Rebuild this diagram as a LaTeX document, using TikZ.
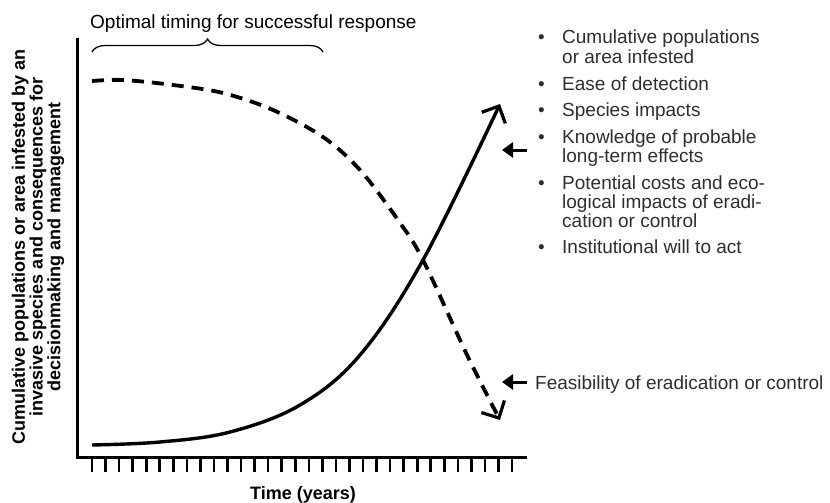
\documentclass[tikz,border=0pt]{standalone}
\usepackage{fontspec}
\setmainfont{Liberation Sans}
\usetikzlibrary{arrows.meta,decorations.pathreplacing}

\definecolor{txtgray}{gray}{0.18}

\tikzset{
  axisline/.style={line width=3pt},
  tickline/.style={line width=2.6pt},
  growth/.style={line width=3.4pt, -{Straight Barb[length=13pt,width=26pt,line width=3.2pt]}},
  feasible/.style={line width=3.8pt, dash pattern=on 12pt off 8pt, -{Straight Barb[length=13pt,width=26pt,line width=3.2pt]}},
  pointer/.style={line width=3pt, -{Triangle[length=11pt,width=15pt]}},
  itemtext/.style={anchor=base west, inner sep=0pt, text=txtgray, font=\fontsize{19}{18.7}\selectfont},
  axislabel/.style={inner sep=0pt, font=\bfseries\fontsize{18}{16}\selectfont},
}

\newcommand{\bulletrow}[1]{\begin{tabular}[t]{@{}p{24pt}@{}l@{}}\textbullet & #1\end{tabular}}

\begin{document}
\begin{tikzpicture}[x=1pt, y=-1pt]
  \useasboundingbox (0,0) rectangle (830,503);

  % axes
  \draw[axisline] (77,38) -- (77,457) -- (527,457);
  \foreach \i in {0,...,31}
    \draw[tickline] (92+\i*13.55,457) -- ++(0,15);

  % axis labels
  \node[axislabel, rotate=90, align=center] (ylab) at (38,247)
    {Cumulative populations or area infested by an\\invasive species and consequences for\\decisionmaking and management};
  \node[axislabel, anchor=base] (xlab) at (303,499) {Time (years)};

  % optimal timing
  \node[itemtext, text=black] (timing) at (90,29) {Optimal timing for successful response};
  \coordinate (braceL) at (92,52);
  \coordinate (braceR) at (323,52);
  \draw[decorate, decoration={brace, amplitude=13pt}, line width=1.3pt] (braceL) -- (braceR);

  % dashed curve: feasibility
  \draw[feasible] plot[smooth, tension=0.55] coordinates
    {(92,81) (123,80) (173,85) (223,93) (273,110) (323,137) (360,170) (398,220) (423,260) (468,357) (500,420)};

  % solid curve: population
  \draw[growth] plot[smooth, tension=0.6] coordinates
    {(92,445) (160,442) (230,432) (300,405) (360,355) (423,260) (500,104)};

  % factors list
  \node[itemtext] (item1) at (538,44) {\bulletrow{Cumulative populations\\ & or area infested}};
  \node[itemtext] (item2) at (538,90) {\bulletrow{Ease of detection}};
  \node[itemtext] (item3) at (538,117) {\bulletrow{Species impacts}};
  \node[itemtext] (item4) at (538,143) {\bulletrow{Knowledge of probable\\ & long-term effects}};
  \node[itemtext] (item5) at (538,189) {\bulletrow{Potential costs and eco-\\ & logical impacts of eradi-\\ & cation or control}};
  \node[itemtext] (item6) at (538,253) {\bulletrow{Institutional will to act}};
  \node[itemtext] (feas) at (535,389) {Feasibility of eradication or control};

  % pointers
  \coordinate (growthTail) at (527,150);
  \coordinate (growthHead) at (502,150);
  \coordinate (feasTail) at (527,382);
  \coordinate (feasHead) at (502,382);
  \draw[pointer] (growthTail) -- (growthHead);
  \draw[pointer] (feasTail) -- (feasHead);

\end{tikzpicture}
\end{document}
